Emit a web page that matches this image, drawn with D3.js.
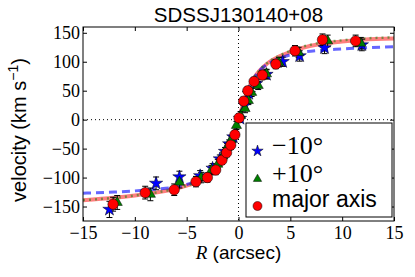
<!DOCTYPE html>
<html>
<head>
<meta charset="utf-8">
<script src="https://cdn.jsdelivr.net/npm/d3@7"></script>
<style>
  body { margin: 0; background: #fff; }
  svg { display: block; }
</style>
</head>
<body>
<svg id="chart" width="415" height="277"></svg>
<script>
// data
const xTicks = [-15, -10, -5, 0, 5, 10, 15];
const yTicks = [-150, -100, -50, 0, 50, 100, 150];

// major axis (red circles)
const majorR   = [-12.1, -9.0, -6.2, -4.1, -3.0, -2.2, -1.6, -1.15, -0.75, -0.35, 0.05, 0.5, 0.9, 1.5, 2.3, 3.6, 5.45, 8.1, 11.3];
const majorV   = [-146, -126, -121, -107, -100, -87, -70, -57, -44, -26, 3, 32, 50, 66, 77, 96, 119, 138, 136];
const majorErr = [12, 11, 10, 9, 8, 8, 7, 7, 7, 7, 7, 7, 7, 7, 8, 8, 9, 10, 10];

// -10 deg (blue stars)
const minusR   = [-12.45, -7.95, -5.7, -3.7, -2.5, -1.8, -1.3, -0.9, -0.5, 0.15, 0.6, 1.0, 1.7, 2.7, 4.26, 5.9, 8.3, 11.9];
const minusV   = [-155, -110, -99, -97, -84, -68, -55, -42, -30, 2, 25, 45, 62, 78, 100, 110, 124, 129];
const minusErr = [14, 11, 10, 9, 8, 7, 7, 7, 7, 7, 7, 7, 7, 8, 8, 9, 10, 10];

// +10 deg (green triangles)
const plusR   = [-11.7, -8.5, -5.7, -3.6, -2.6, -2.0, -1.5, -1.1, -0.7, -0.2, 0.2, 0.63, 0.95, 1.27, 1.9, 2.7, 3.9, 5.8, 8.6, 11.8];
const plusV   = [-143, -129, -108, -100, -87, -77, -63, -48, -35, -10, 7, 19, 33, 47, 59, 79, 99, 116, 136, 132];
const plusErr = [12, 11, 10, 9, 8, 8, 7, 7, 7, 7, 7, 7, 7, 7, 7, 8, 8, 9, 10, 10];

// model curves
const curveR = [-15, -12, -10, -8, -6, -5, -4, -3, -2, -1.5, -1, -0.5, 0, 0.5, 1, 1.5, 2, 3, 4, 5, 6, 8, 10, 12, 15];
const redV   = [-139, -135, -131, -126, -119, -114, -108, -99, -84, -72, -55, -30, 0, 30, 55, 72, 84, 100, 110, 117, 123, 131, 135, 138, 140];
const blueV  = [-127, -125, -123, -120, -116, -112, -106, -98, -84, -72, -55, -30, 0, 30, 55, 72, 84, 98, 106, 112, 116, 120, 122, 124, 126];
const greenV = [-139, -135, -131, -126, -119, -114, -108, -99, -85, -73, -56, -31, 0, 31, 56, 73, 85, 101, 111, 119, 125, 133, 137, 140, 142];

const svg = d3.select("#chart");
const pLeft = 83, pRight = 394, pTop = 27, pBottom = 221;

const x = d3.scaleLinear().domain([-15, 15]).range([pLeft, pRight]);
const y = d3.scaleLinear().domain([-175, 160]).range([pBottom, pTop]);

const fmt = d => (d < 0 ? "\u2212" + Math.abs(d) : "" + d);
const serif = "Liberation Serif, serif";
const sans = "Liberation Sans, Arial, sans-serif";

// zero lines
svg.append("line")
    .attr("x1", pLeft).attr("x2", pRight)
    .attr("y1", y(0)).attr("y2", y(0))
    .attr("stroke", "#000").attr("stroke-width", 1)
    .attr("stroke-dasharray", "1,3");
svg.append("line")
    .attr("x1", x(0)).attr("x2", x(0))
    .attr("y1", pTop).attr("y2", pBottom)
    .attr("stroke", "#000").attr("stroke-width", 1)
    .attr("stroke-dasharray", "1,3");

// model lines
const line = (vals) => d3.line()
    .x((d, i) => x(curveR[i]))
    .y((d, i) => y(vals[i]))
    .curve(d3.curveMonotoneX)(vals);

const plot = svg.append("g");
plot.append("path").attr("d", line(redV))
    .attr("fill", "none").attr("stroke", "#ff0000").attr("stroke-opacity", 0.5)
    .attr("stroke-width", 4);
plot.append("path").attr("d", line(blueV))
    .attr("fill", "none").attr("stroke", "#0000ff").attr("stroke-opacity", 0.6)
    .attr("stroke-width", 3).attr("stroke-dasharray", "8,5");
plot.append("path").attr("d", line(greenV))
    .attr("fill", "none").attr("stroke", "#008000").attr("stroke-opacity", 0.5)
    .attr("stroke-width", 2.5).attr("stroke-dasharray", "2,4");

function errorBars(rs, vs, errs){
    const g = plot.append("g").attr("stroke", "#000").attr("stroke-width", 1);
    rs.forEach((r, i) => {
        const cx = x(r), y1 = y(vs[i] - errs[i]), y2 = y(vs[i] + errs[i]);
        g.append("line").attr("x1", cx).attr("x2", cx).attr("y1", y1).attr("y2", y2);
        g.append("line").attr("x1", cx - 3).attr("x2", cx + 3).attr("y1", y1).attr("y2", y1);
        g.append("line").attr("x1", cx - 3).attr("x2", cx + 3).attr("y1", y2).attr("y2", y2);
    });
}

errorBars(minusR, minusV, minusErr);
errorBars(plusR, plusV, plusErr);
errorBars(majorR, majorV, majorErr);

const star = d3.symbol().type(d3.symbolStar).size(55);
const tri = d3.symbol().type(d3.symbolTriangle).size(45);

plot.append("g").selectAll("path")
    .data(minusR.map((r, i) => [r, minusV[i]]))
    .join("path")
    .attr("d", star)
    .attr("transform", d => `translate(${x(d[0])},${y(d[1])})`)
    .attr("fill", "#0000ff").attr("stroke", "#000").attr("stroke-width", 0.5);

plot.append("g").selectAll("path")
    .data(plusR.map((r, i) => [r, plusV[i]]))
    .join("path")
    .attr("d", tri)
    .attr("transform", d => `translate(${x(d[0])},${y(d[1])})`)
    .attr("fill", "#008000").attr("stroke", "#000").attr("stroke-width", 0.5);

plot.append("g").selectAll("circle")
    .data(majorR.map((r, i) => [r, majorV[i]]))
    .join("circle")
    .attr("cx", d => x(d[0])).attr("cy", d => y(d[1]))
    .attr("r", 5.2)
    .attr("fill", "#ff0000").attr("stroke", "#000").attr("stroke-width", 0.5);

// axes, ticks pointing inward on all sides
const xAxis = svg.append("g").attr("transform", `translate(0,${pBottom})`)
    .call(d3.axisBottom(x).tickValues(xTicks).tickSize(-4).tickFormat(fmt))
    .attr("font-family", serif).attr("font-size", 18);
xAxis.selectAll("text").attr("y", 18).attr("dy", null).attr("fill", "#000");

const yAxis = svg.append("g").attr("transform", `translate(${pLeft},0)`)
    .call(d3.axisLeft(y).tickValues(yTicks).tickSize(-4).tickFormat(fmt))
    .attr("font-family", serif).attr("font-size", 18);
yAxis.selectAll("text").attr("x", -3).attr("dy", "0.34em").attr("fill", "#000");

svg.append("g").attr("transform", `translate(0,${pTop})`)
    .call(d3.axisTop(x).tickValues(xTicks).tickSize(-4).tickFormat(""));
svg.append("g").attr("transform", `translate(${pRight},0)`)
    .call(d3.axisRight(y).tickValues(yTicks).tickSize(-4).tickFormat(""));

svg.selectAll(".domain").remove();
svg.append("rect")
    .attr("x", pLeft).attr("y", pTop)
    .attr("width", pRight - pLeft).attr("height", pBottom - pTop)
    .attr("fill", "none").attr("stroke", "#000").attr("stroke-width", 1);

// title and axis labels
svg.append("text")
    .attr("x", (pLeft + pRight) / 2).attr("y", 22)
    .attr("text-anchor", "middle")
    .attr("font-family", sans).attr("font-size", 20.5)
    .text("SDSSJ130140+08");

const xl = svg.append("text")
    .attr("x", (pLeft + pRight) / 2).attr("y", 259)
    .attr("text-anchor", "middle")
    .attr("font-family", sans).attr("font-size", 19);
xl.append("tspan").attr("font-family", serif).attr("font-style", "italic").text("R");
xl.append("tspan").text(" (arcsec)");

const yl = svg.append("text")
    .attr("transform", "translate(26,130) rotate(-90)")
    .attr("text-anchor", "middle")
    .attr("font-family", sans).attr("font-size", 20);
yl.append("tspan").text("velocity (km s");
yl.append("tspan").attr("dy", -8).attr("font-size", 14).text("\u22121");
yl.append("tspan").attr("dy", 8).text(")");

// legend
const legend = svg.append("g");
legend.append("rect")
    .attr("x", 246).attr("y", 123).attr("width", 146).attr("height", 94)
    .attr("fill", "#fff").attr("stroke", "#000").attr("stroke-width", 1);
legend.append("path")
    .attr("d", d3.symbol().type(d3.symbolStar).size(40)())
    .attr("transform", "translate(257.5,151)")
    .attr("fill", "#0000ff").attr("stroke", "#000").attr("stroke-width", 0.5);
legend.append("path")
    .attr("d", d3.symbol().type(d3.symbolTriangle).size(30)())
    .attr("transform", "translate(257.5,179)")
    .attr("fill", "#008000").attr("stroke", "#000").attr("stroke-width", 0.5);
legend.append("circle")
    .attr("cx", 257.5).attr("cy", 206).attr("r", 4.5)
    .attr("fill", "#ff0000").attr("stroke", "#000").attr("stroke-width", 0.5);
legend.append("text").attr("x", 272).attr("y", 154)
    .attr("font-family", serif).attr("font-size", 26).text("\u221210\u00b0");
legend.append("text").attr("x", 272).attr("y", 182)
    .attr("font-family", serif).attr("font-size", 26).text("+10\u00b0");
legend.append("text").attr("x", 272).attr("y", 207)
    .attr("font-family", sans).attr("font-size", 23).text("major axis");
</script>
</body>
</html>
